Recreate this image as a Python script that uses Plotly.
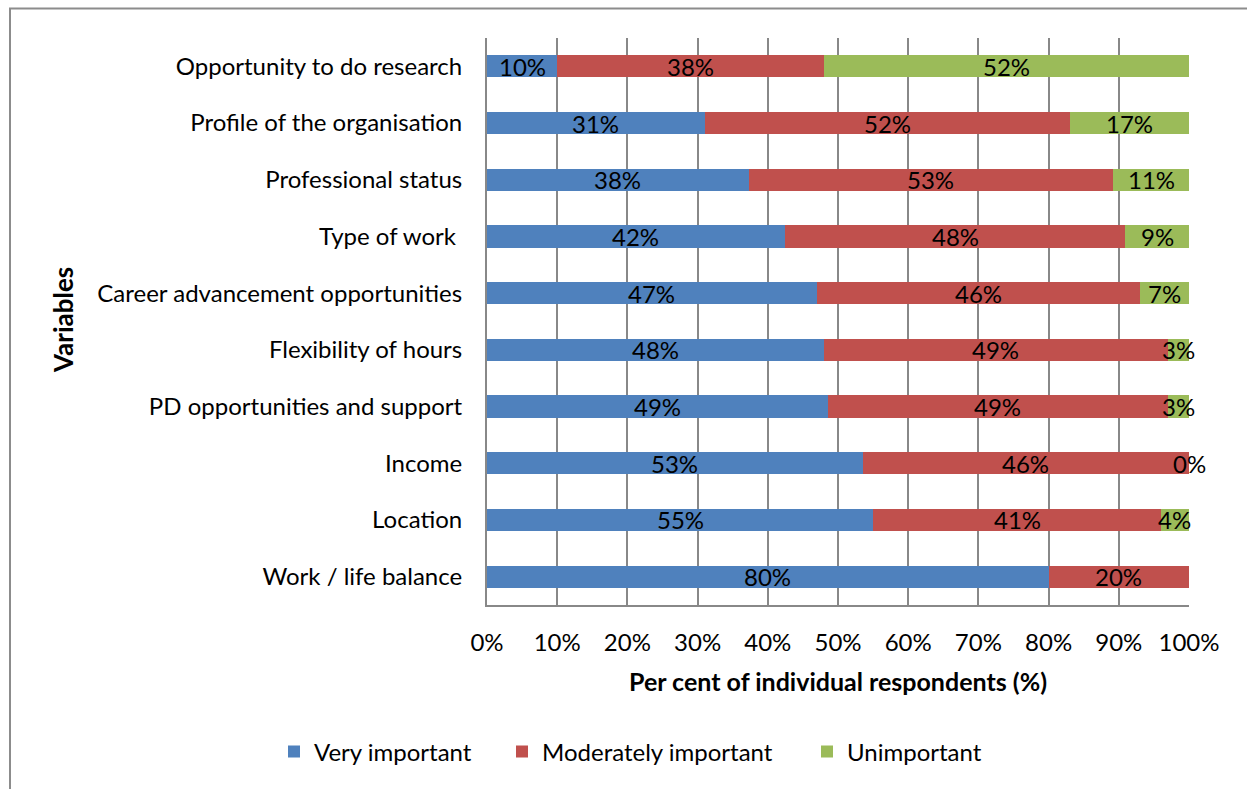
import numpy as np
import plotly.graph_objects as go

# Survey factors, listed bottom to top as they appear on the axis
factors = [
    "Work / life balance",
    "Location",
    "Income",
    "PD opportunities and support",
    "Flexibility of hours",
    "Career advancement opportunities",
    "Type of work ",
    "Professional status",
    "Profile of the organisation",
    "Opportunity to do research",
]

very_important = [80, 55, 53, 49, 48, 47, 42, 38, 31, 10]
moderately_important = [20, 41, 46, 49, 49, 46, 48, 53, 52, 38]
unimportant = [0, 4, 0, 3, 3, 7, 9, 11, 17, 52]

series_names = ["Very important", "Moderately important", "Unimportant"]
series_colors = ["#4F81BD", "#C0504D", "#9BBB59"]

FONT = "Lato"
W, H = 1247, 789
M_L, M_R, M_T, M_B = 487, 58, 38, 184

series = [very_important, moderately_important, unimportant]
raw = np.array(series, dtype=float)
share = raw / raw.sum(axis=0) * 100  # same normalisation as barnorm="percent"
left_edges = np.vstack([np.zeros(raw.shape[1]), np.cumsum(share, axis=0)[:-1]])
centers = left_edges + share / 2

plot_w = W - M_L - M_R
plot_h = H - M_T - M_B

def px_x(p):
    return (p - M_L) / plot_w

def px_y(p):
    return (H - M_B - p) / plot_h

# one legend box per series so each entry sits at its own spot in the row
legend_ids = ["legend", "legend2", "legend3"]
legend_left_px = [274, 502, 807]

fig = go.Figure()
for name, color, vals, lid in zip(series_names, series_colors, series, legend_ids):
    fig.add_trace(go.Bar(
        y=factors, x=vals, name=name, orientation="h",
        marker=dict(color=color, line=dict(width=0)),
        hoverinfo="name+x", legend=lid,
    ))

# value labels centred on each segment
annotations = []
for s_idx, vals in enumerate(series):
    for c_idx, v in enumerate(vals):
        if s_idx == 2 and factors[c_idx] == "Work / life balance":
            continue
        annotations.append(dict(
            x=centers[s_idx, c_idx], y=factors[c_idx], xref="x", yref="y",
            text=f"{v}%", showarrow=False,
            font=dict(family=FONT, size=24, color="black"),
        ))

annotations.append(dict(
    x=0.5, y=px_y(681), xref="paper", yref="paper",
    text="<b>Per cent of individual respondents (%)</b>", showarrow=False,
    font=dict(family=FONT, size=25, color="black"), yanchor="middle",
))
annotations.append(dict(
    x=px_x(63), y=px_y(320), xref="paper", yref="paper",
    text="<b>Variables</b>", showarrow=False, textangle=-90,
    font=dict(family=FONT, size=26, color="black"), xanchor="center",
))

legend_layout = {}
for lid, left in zip(legend_ids, legend_left_px):
    legend_layout[lid] = dict(
        orientation="h", x=px_x(left), y=px_y(752), xanchor="left", yanchor="middle",
        font=dict(family=FONT, size=24, color="black"),
        itemwidth=30, bgcolor="rgba(0,0,0,0)",
    )

fig.update_layout(
    width=W, height=H,
    margin=dict(l=M_L, r=M_R, t=M_T, b=M_B),
    barmode="stack", barnorm="percent", bargap=0.61,
    plot_bgcolor="white", paper_bgcolor="white",
    font=dict(family=FONT, size=24, color="black"),
    annotations=annotations,
    showlegend=True,
    shapes=[dict(
        type="rect", xref="paper", yref="paper",
        x0=px_x(10), x1=px_x(1262), y0=px_y(800), y1=px_y(8.5),
        line=dict(color="#8C8C8C", width=2), fillcolor="rgba(0,0,0,0)", layer="below",
    )],
    **legend_layout,
)
fig.update_xaxes(
    range=[0, 100], tickvals=list(range(0, 101, 10)),
    ticktext=[f"{t}%" for t in range(0, 101, 10)],
    showgrid=True, gridcolor="#888888", gridwidth=1.5,
    showline=True, linecolor="#888888", linewidth=2,
    zeroline=False, ticks="", ticklabelstandoff=15,
    tickfont=dict(family=FONT, size=24),
)
fig.update_yaxes(
    categoryorder="array", categoryarray=factors,
    showline=True, linecolor="#888888", linewidth=2,
    showgrid=False, ticks="", ticklabelstandoff=18,
    tickfont=dict(family=FONT, size=24),
)

fig.write_html("out.html")
